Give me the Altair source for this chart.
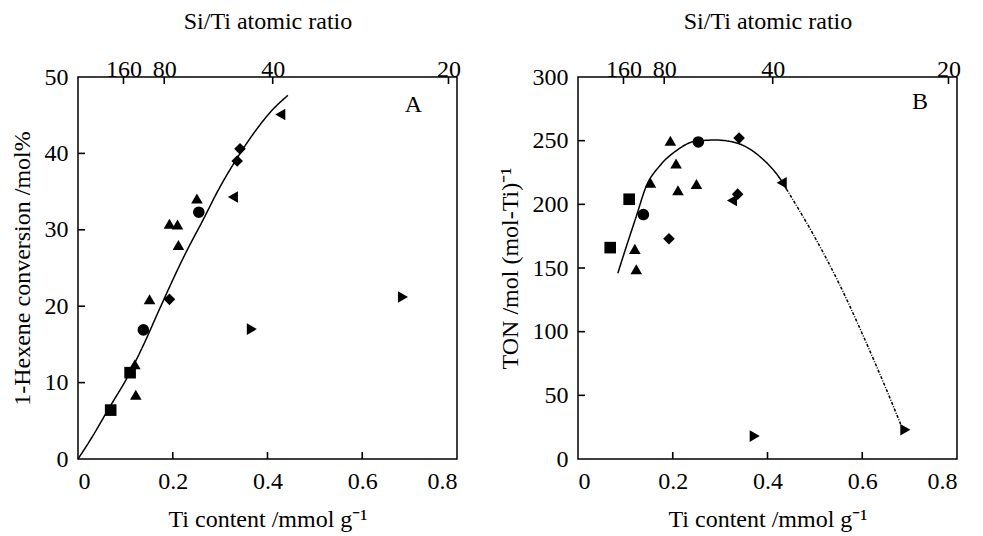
import altair as alt
import pandas as pd

FONT = "Liberation Serif"
FS = 24

# ---------------- Panel A: 1-Hexene conversion ----------------
a_shape = ["square", "square", "circle", "circle",
           "triangle-up", "triangle-up", "triangle-up", "triangle-up", "triangle-up", "triangle-up", "triangle-up",
           "diamond", "diamond", "diamond",
           "triangle-left", "triangle-left",
           "triangle-right", "triangle-right"]
a_ti = [0.069, 0.110, 0.138, 0.255,
        0.122, 0.120, 0.151, 0.193, 0.210, 0.212, 0.251,
        0.193, 0.336, 0.342,
        0.327, 0.427,
        0.367, 0.686]
a_val = [6.4, 11.3, 16.9, 32.3,
         8.4, 12.4, 20.9, 30.8, 30.7, 28.0, 34.1,
         20.9, 39.0, 40.6,
         34.3, 45.1,
         17.0, 21.2]

a_curve_ti = [0.0, 0.03, 0.063, 0.106, 0.141, 0.169, 0.226, 0.264, 0.297, 0.331, 0.374, 0.409, 0.443]
a_curve_val = [0.0, 2.9, 6.4, 10.9, 15.3, 19.2, 26.8, 31.3, 35.3, 38.9, 42.9, 45.6, 47.6]

# ---------------- Panel B: TON ----------------
b_shape = a_shape
b_ti = [0.068, 0.108, 0.138, 0.254,
        0.120, 0.123, 0.153, 0.195, 0.207, 0.211, 0.250,
        0.192, 0.337, 0.340,
        0.325, 0.430,
        0.373, 0.691]
b_val = [166, 204, 192, 249,
         165, 149, 217, 250, 232, 211, 216,
         173, 208, 252,
         203, 217,
         18, 23]

b_curve_ti = [0.084, 0.102, 0.123, 0.144, 0.172, 0.207, 0.249, 0.291, 0.333, 0.383, 0.432, 0.44]
b_curve_val = [145.8, 166.8, 190.5, 214.2, 230.0, 242.0, 249.7, 250.5, 248.4, 237.8, 217.0, 212.0]
b_dash_ti = [0.44, 0.495, 0.551, 0.600, 0.649, 0.681]
b_dash_val = [212.0, 177.4, 137.9, 98.4, 56.3, 27.4]

# ---------------- axes ----------------
x_ticks = [0, 0.2, 0.4, 0.6, 0.8]
top_pos = [0.096, 0.182, 0.411, 0.782]
top_lab = ["160", "80", "40", "20"]
a_yticks = [0, 10, 20, 30, 40, 50]
b_yticks = [0, 50, 100, 150, 200, 250, 300]

W, H = 379, 382
TICK = 7
XMAX = 0.8


def top_expr():
    parts = []
    for p, l in zip(top_pos, top_lab):
        parts.append(f"abs(datum.value - {p}) < 0.001 ? '{l}' : ")
    return "".join(parts) + "''"


def panel(ti, val, shape, curve_ti, curve_val, dash_ti, dash_val,
          ydom, yticks, ytitle, letter, letter_x, letter_y):
    xs = alt.Scale(domain=[0, XMAX], nice=False, zero=False)
    ys = alt.Scale(domain=ydom, nice=False, zero=False)
    dy = (ydom[1] - ydom[0]) * TICK / H   # inward tick length in y data units
    dx = XMAX * TICK / W                  # inward tick length in x data units

    pts = pd.DataFrame({"ti": ti, "val": val, "shape": shape})
    points = alt.Chart(pts).mark_point(filled=True, color="black", opacity=1, size=135).encode(
        x=alt.X("ti:Q", scale=xs, axis=alt.Axis(orient="bottom", values=x_ticks, format="~g",
                                                title="Ti content /mmol g\u207b\u00b9",
                                                labelPadding=10, titlePadding=14)),
        y=alt.Y("val:Q", scale=ys, axis=alt.Axis(orient="left", values=yticks, format="d", title=ytitle,
                                                 labelPadding=10, titlePadding=10)),
        shape=alt.Shape("shape:N", scale=None),
    )

    # fitted curve and its dotted extension
    gid, gx, gy = [], [], []
    for x, y in zip(curve_ti, curve_val):
        gid.append("solid"); gx.append(x); gy.append(y)
    for x, y in zip(dash_ti, dash_val):
        gid.append("dash"); gx.append(x); gy.append(y)
    ldf_lines = pd.DataFrame({"sty": gid, "lx": gx, "ly": gy})
    lines = alt.Chart(ldf_lines).mark_line(color="black", strokeWidth=1.5, interpolate="monotone").encode(
        x=alt.X("lx:Q", scale=xs, axis=None),
        y=alt.Y("ly:Q", scale=ys, axis=None),
        strokeDash=alt.StrokeDash("sty:N", scale=alt.Scale(domain=["solid", "dash"],
                                                           range=[[1, 0], [3, 1.5, 1, 1.5]]),
                                  legend=None),
    )

    # inward tick marks as rule segments through the scales
    sx, sx2, sy, sy2 = [], [], [], []
    for p in top_pos:
        sx.append(p); sx2.append(p); sy.append(ydom[1]); sy2.append(ydom[1] - dy)
    for p in x_ticks[1:-1]:
        sx.append(p); sx2.append(p); sy.append(ydom[0]); sy2.append(ydom[0] + dy)
    for v in yticks[1:-1]:
        sx.append(0.0); sx2.append(dx); sy.append(v); sy2.append(v)
    sdf = pd.DataFrame({"sx": sx, "sx2": sx2, "sy": sy, "sy2": sy2})
    ticks = alt.Chart(sdf).mark_rule(stroke="black", strokeWidth=1.6, opacity=1).encode(
        x=alt.X("sx:Q", scale=xs, axis=None), x2="sx2:Q",
        y=alt.Y("sy:Q", scale=ys, axis=None), y2="sy2:Q",
    )

    # top axis (Si/Ti atomic ratio), carried by an invisible layer
    top_df = pd.DataFrame({"pos": top_pos})
    top = alt.Chart(top_df).mark_point(opacity=0).encode(
        x=alt.X("pos:Q", scale=xs, axis=alt.Axis(orient="top", values=top_pos, labelExpr=top_expr(),
                                                 title="Si/Ti atomic ratio",
                                                 labelPadding=-4, titlePadding=24)),
        y=alt.Y("pos:Q", scale=ys, axis=None),
    )

    ldf = pd.DataFrame({"ti": [letter_x], "val": [letter_y], "t": [letter]})
    lab = alt.Chart(ldf).mark_text(font=FONT, fontSize=FS, color="black").encode(
        x=alt.X("ti:Q", scale=xs, axis=None),
        y=alt.Y("val:Q", scale=ys, axis=None),
        text="t:N",
    )

    return alt.layer(points, lines, ticks, top, lab).resolve_scale(
        x="independent").resolve_axis(y="independent").properties(width=W, height=H)


pa = panel(a_ti, a_val, a_shape, a_curve_ti, a_curve_val, [], [],
           [0, 50], a_yticks, "1-Hexene conversion  /mol%", "A", 0.708, 46.3)
pb = panel(b_ti, b_val, b_shape, b_curve_ti, b_curve_val, b_dash_ti, b_dash_val,
           [0, 300], b_yticks, "TON /mol (mol-Ti)\u207b\u00b9", "B", 0.722, 280)

chart = alt.hconcat(pa, pb, spacing=35).properties(
    padding={"left": 1, "top": 0, "right": 5, "bottom": 0}
).configure(
    background="white"
).configure_view(
    stroke="black", strokeWidth=1.5
).configure_axis(
    labelFont=FONT, labelFontSize=FS, labelColor="black",
    titleFont=FONT, titleFontSize=FS, titleFontWeight="normal", titleColor="black",
    grid=False, domain=False, ticks=False, tickSize=0,
)

chart.save("out.html", embed_options={"renderer": "svg", "actions": False})
